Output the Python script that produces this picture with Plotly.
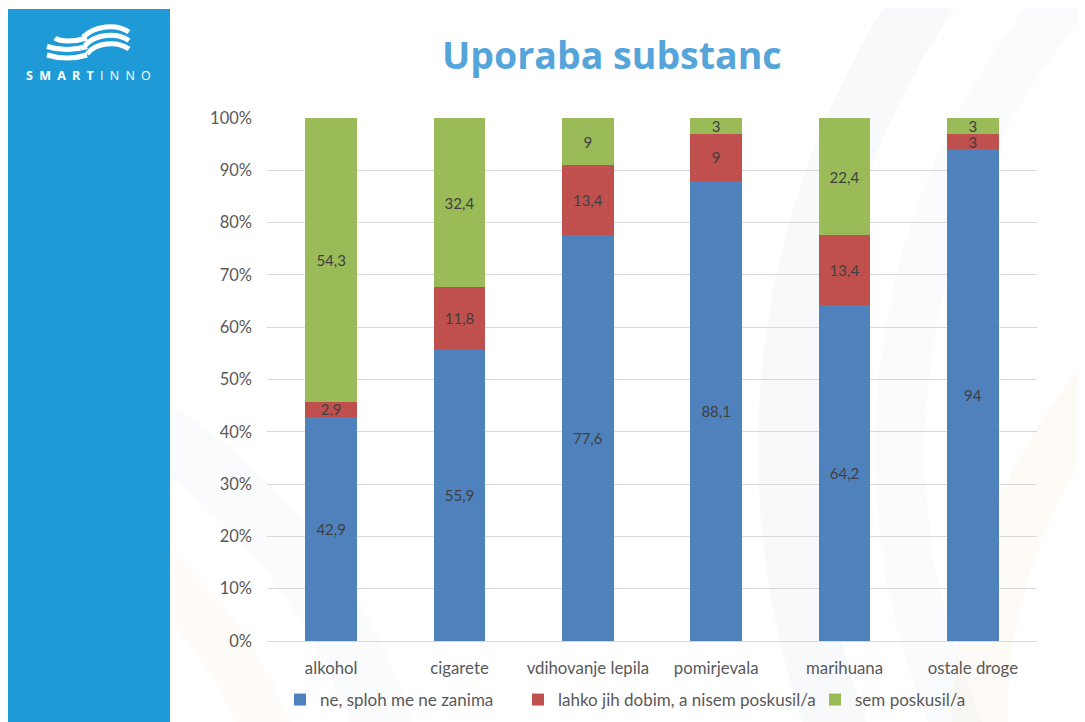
import plotly.graph_objects as go

# ---------------- data ----------------
categories = ["alkohol", "cigarete", "vdihovanje lepila", "pomirjevala", "marihuana", "ostale droge"]
ne_zanima = [42.9, 55.9, 77.6, 88.1, 64.2, 94]
lahko_dobim = [2.9, 11.8, 13.4, 9, 13.4, 3]
poskusil = [54.3, 32.4, 9, 3, 22.4, 3]
series_names = ["ne, sploh me ne zanima", "lahko jih dobim, a nisem poskusil/a", "sem poskusil/a"]
y_tick_values = [0, 10, 20, 30, 40, 50, 60, 70, 80, 90, 100]
y_tick_labels = [f"{v}%" for v in y_tick_values]
title_text = "Uporaba substanc"

# ---------------- style ----------------
colors = ["#4F81BD", "#C0504D", "#9BBB59"]
W, H = 1085, 722
OFF = 8  # page body margin
L, R, T, B = 259, 56, 110, 89
PW, PH = W - L - R, H - T - B
FONT = "Lato"


def px(xs):
    """screen x -> paper x"""
    return (xs - OFF - L) / PW


def py(ys):
    """screen y -> paper y"""
    return (H - B - (ys - OFF)) / PH


def fmt(v):
    return str(v).replace(".", ",")


legend_ids = ["legend", "legend2", "legend3"]
fig = go.Figure()
for name, vals, col, lg in zip(series_names, [ne_zanima, lahko_dobim, poskusil], colors, legend_ids):
    fig.add_trace(go.Bar(
        x=categories, y=vals, name=name, marker=dict(color=col, line=dict(width=0)),
        text=[fmt(v) for v in vals], textposition="inside", insidetextanchor="middle",
        textangle=0, textfont=dict(family=FONT, size=15, color="#404040"),
        cliponaxis=False, legend=lg,
    ))

shapes = []
# faint watermark arcs
for cx, cy, r, col, op, lw in [
    (1600, 450, 812, "#9FB8D0", 0.07, 60),
    (1600, 450, 700, "#9FB8D0", 0.05, 50),
    (1500, 720, 520, "#F2C48D", 0.07, 55),
    (-150, 900, 560, "#9FB8D0", 0.05, 60),
    (-150, 900, 450, "#F2C48D", 0.05, 50),
]:
    shapes.append(dict(type="circle", xref="paper", yref="paper",
                       x0=px(cx - r), x1=px(cx + r), y0=py(cy + r), y1=py(cy - r),
                       line=dict(color=col, width=lw), opacity=op, layer="below"))
# sidebar (drawn over the watermark)
shapes.append(dict(type="rect", xref="paper", yref="paper", x0=px(8), x1=px(170), y0=py(760), y1=py(9),
                   fillcolor="#1E9BD7", line=dict(width=0), layer="below"))

# logo waves (three white stripes, each in two parts)
for i in range(3):
    o = 8.5 * i
    left = [(47 + (8 if i == 0 else 0), 38 + o), (60, 42 + o), (74, 42 + o), (87, 38 + o)]
    right = [(83 + 2 * i, 37 + o), (95, 26 + o), (116, 23 + o), (129, 32 + o)]
    for pts in (left, right):
        p = "M {:.5f},{:.5f} C {:.5f},{:.5f} {:.5f},{:.5f} {:.5f},{:.5f}".format(
            px(pts[0][0]), py(pts[0][1]), px(pts[1][0]), py(pts[1][1]),
            px(pts[2][0]), py(pts[2][1]), px(pts[3][0]), py(pts[3][1]))
        shapes.append(dict(type="path", xref="paper", yref="paper", path=p,
                           line=dict(color="white", width=5)))

annotations = [
    dict(text=title_text, xref="paper", yref="paper", x=px(612), y=py(55), xanchor="center", yanchor="middle",
         showarrow=False, font=dict(family="Open Sans", size=37.5, color="#55A5DB", weight="bold")),
    dict(text="<b>S\u2002M\u2002A\u2002R\u2002T</b>\u2002I\u2002N\u2002N\u2002O", xref="paper", yref="paper",
         x=px(88), y=py(75), xanchor="center", yanchor="middle", showarrow=False,
         font=dict(family="Open Sans", size=12.5, color="white")),
]

legend_common = dict(orientation="h", xanchor="left", yanchor="middle", y=py(700),
                     font=dict(family=FONT, size=17, color="#595959"), bgcolor="rgba(0,0,0,0)")

fig.update_layout(
    width=W, height=H,
    margin=dict(l=L, r=R, t=T, b=B, autoexpand=False),
    barmode="stack", barnorm="percent", bargap=0.595,
    paper_bgcolor="white", plot_bgcolor="rgba(0,0,0,0)",
    font=dict(family=FONT, size=16, color="#595959"),
    uniformtext=dict(minsize=15, mode="show"),
    xaxis=dict(showgrid=False, showline=True, linecolor="#D9D9D9", linewidth=1, ticks="",
               tickfont=dict(family=FONT, size=16.8, color="#595959"), ticklabelstandoff=12),
    yaxis=dict(range=[0, 100], tickvals=y_tick_values, ticktext=y_tick_labels, showgrid=True,
               gridcolor="#D9D9D9", gridwidth=1, zeroline=False, showline=False, ticks="",
               tickfont=dict(family=FONT, size=16.5, color="#595959"), ticklabelstandoff=14),
    legend=dict(legend_common, x=px(280)),
    legend2=dict(legend_common, x=px(518)),
    legend3=dict(legend_common, x=px(815)),
    shapes=shapes,
    annotations=annotations,
    showlegend=True,
)

fig.write_html("out.html")
